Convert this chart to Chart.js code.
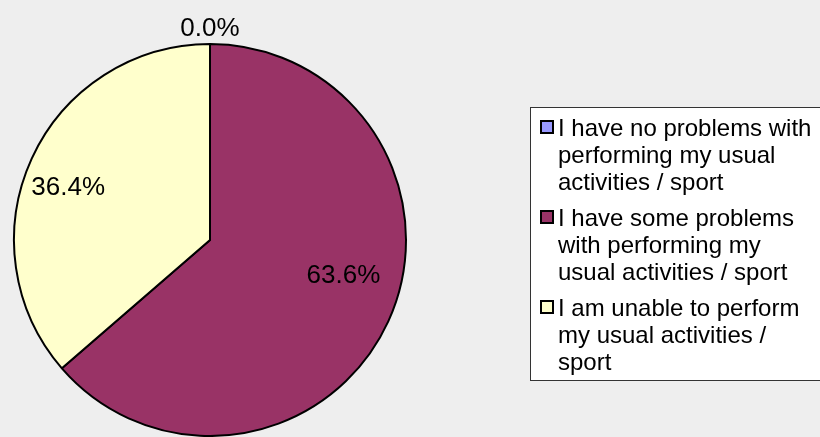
<!DOCTYPE html>
<html>
<head>
<meta charset="utf-8">
<script src="https://cdn.jsdelivr.net/npm/chart.js@4/dist/chart.umd.min.js"></script>
<style>
  html, body { margin: 0; padding: 0; background: #eeeeee; }
  #wrap { width: 820px; height: 437px; }
</style>
</head>
<body>
<div id="wrap"><canvas id="chart" width="820" height="437"></canvas></div>
<script>
// ── Data ───────────────────────────────────────────────
const categories = [
  ['I have no problems with', 'performing my usual', 'activities / sport'],
  ['I have some problems', 'with performing my', 'usual activities / sport'],
  ['I am unable to perform', 'my usual activities /', 'sport']
];
const responses = [0, 7, 4];
const colours   = ['#9999FF', '#993366', '#FFFFCC'];

// label placement: [angle shift in degrees, radius fraction]
const labelPlace = [[0, 1.075], [-9.5, 0.705], [-4.5, 0.77]];

const FONT = "'Liberation Sans', Arial, sans-serif";

// ── Percentage labels ──────────────────────────────────
const pctLabels = {
  id: 'pctLabels',
  afterDatasetsDraw(chart) {
    const ctx = chart.ctx;
    const meta = chart.getDatasetMeta(0);
    const total = responses.reduce((s, v) => s + v, 0);
    ctx.save();
    ctx.font = '26px ' + FONT;
    ctx.fillStyle = '#000';
    ctx.textAlign = 'center';
    ctx.textBaseline = 'middle';
    meta.data.forEach((arc, i) => {
      const p = arc.getProps(['x', 'y', 'startAngle', 'endAngle', 'outerRadius'], true);
      const a = (p.startAngle + p.endAngle) / 2 + labelPlace[i][0] * Math.PI / 180;
      const r = p.outerRadius * labelPlace[i][1];
      const txt = (responses[i] / total * 100).toFixed(1) + '%';
      ctx.fillText(txt, p.x + Math.cos(a) * r, p.y + Math.sin(a) * r);
    });
    ctx.restore();
  }
};

// ── Boxed legend (wrapped lines) ───────────────────────
const boxLegend = {
  id: 'boxLegend',
  afterDraw(chart) {
    const ctx = chart.ctx;
    const left = 530, top = 107, bottom = 380, right = 824;
    ctx.save();
    ctx.fillStyle = '#ffffff';
    ctx.fillRect(left, top, right - left, bottom - top);
    ctx.strokeStyle = '#333333';
    ctx.lineWidth = 1;
    ctx.strokeRect(left + 0.5, top + 0.5, right - left, bottom - top);

    ctx.font = '24px ' + FONT;
    ctx.textBaseline = 'alphabetic';
    ctx.textAlign = 'left';
    let y = 136;
    chart.data.labels.forEach((lines, i) => {
      ctx.fillStyle = colours[i];
      ctx.fillRect(541, y - 15, 12, 12);
      ctx.strokeStyle = '#000';
      ctx.lineWidth = 2;
      ctx.strokeRect(541, y - 15, 12, 12);
      ctx.fillStyle = '#000';
      lines.forEach((line, j) => {
        ctx.fillText(line, 558, y);
        if (j < lines.length - 1) y += 27;
      });
      y += 36;
    });
    ctx.restore();
  }
};

new Chart(document.getElementById('chart'), {
  type: 'pie',
  data: {
    labels: categories,
    datasets: [{
      data: responses,
      backgroundColor: colours,
      borderColor: '#000',
      borderWidth: 2
    }]
  },
  options: {
    responsive: false,
    animation: false,
    layout: { padding: { left: 11, top: 43, right: 411, bottom: 0 } },
    plugins: {
      legend: { display: false },
      tooltip: { enabled: false }
    }
  },
  plugins: [pctLabels, boxLegend]
});
</script>
</body>
</html>
